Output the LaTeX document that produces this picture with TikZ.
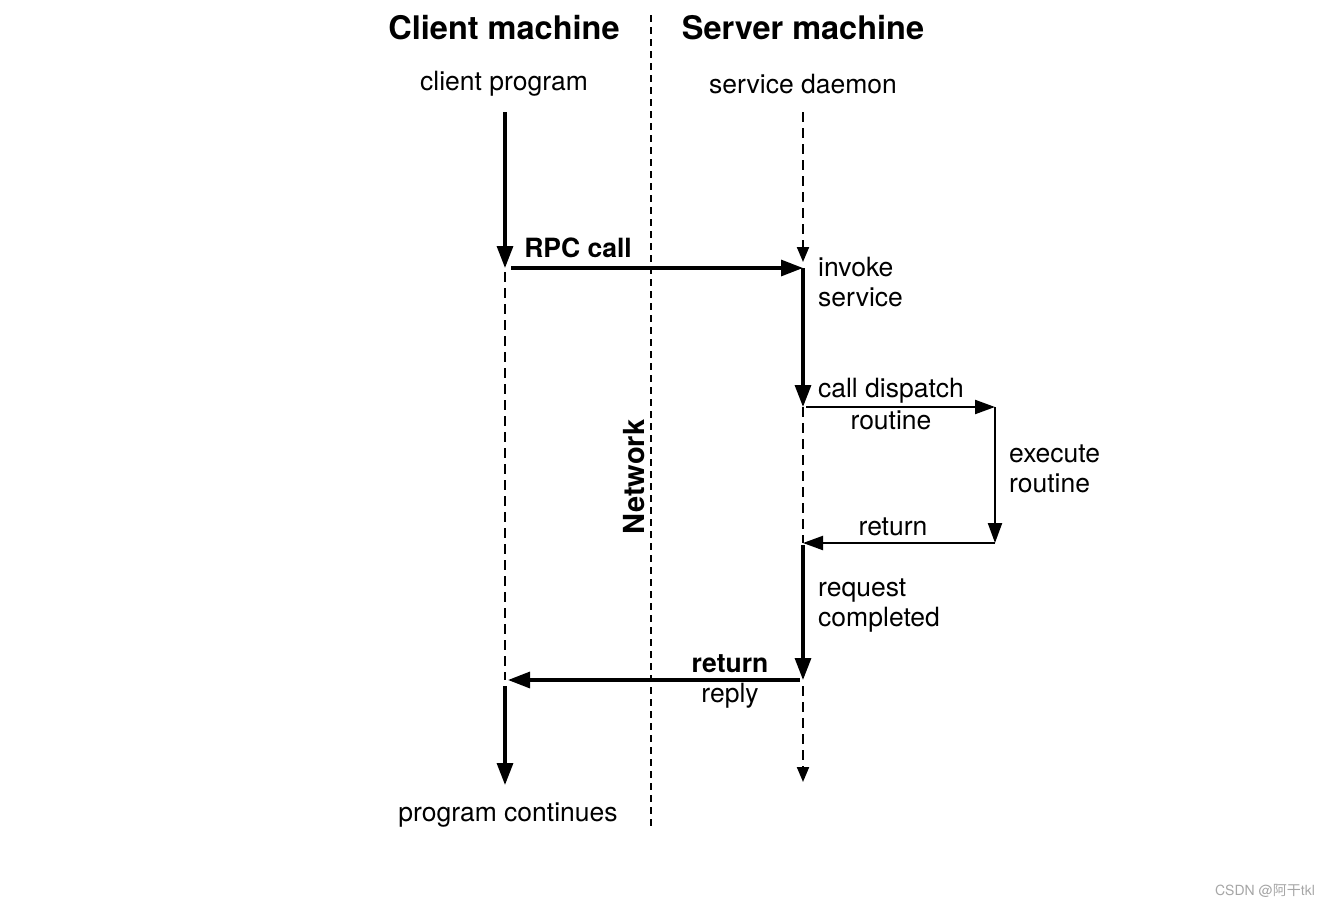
\documentclass[tikz,border=0pt]{standalone}
\usepackage{fontspec}
\setmainfont{TeX Gyre Heros}
\newfontfamily\cjkfont{Noto Sans CJK SC}
\usetikzlibrary{arrows.meta}
\begin{document}
\begin{tikzpicture}[x=1pt,y=-1pt,
  hdr/.style={font=\fontsize{32.5}{37}\selectfont\bfseries, inner sep=0pt},
  lbl/.style={font=\fontsize{26.5}{30}\selectfont, inner sep=0pt, align=left},
  blbl/.style={font=\fontsize{26.5}{30}\selectfont\bfseries, inner sep=0pt},
  flow/.style={line width=3.2pt, -{Triangle[length=22pt,width=16pt]}},
  thinflow/.style={line width=2.2pt, -{Triangle[length=20pt,width=14pt]}},
  dashflow/.style={line width=2pt, dash pattern=on 10pt off 6pt, -{Triangle[length=15pt,width=12pt]}},
  dashline/.style={line width=2pt, dash pattern=on 10pt off 6pt},
  netline/.style={line width=2pt, dash pattern=on 7pt off 5pt},
]
\useasboundingbox[fill=white] (0,0) rectangle (1331,908);

% headers
\node[hdr] (hc) at (504,28) {Client machine};
\node[hdr] (hs) at (803,28) {Server machine};
\node[lbl] (cp) at (504,84) {client program};
\node[lbl] (sd) at (803,84) {service daemon};

% network line
\coordinate (n1) at (651,15);
\coordinate (n2) at (651,830);
\draw[netline] (n1) -- (n2);
\node[font=\fontsize{29}{33}\selectfont\bfseries, inner sep=0pt, rotate=90] (net) at (634,477) {Network};

% client coordinates
\coordinate (c0) at (505,112);
\coordinate (c1) at (505,268);
\coordinate (c1b) at (505,272);
\coordinate (c2) at (505,680);
\coordinate (c2b) at (505,686);
\coordinate (c3) at (505,785);

% server coordinates
\coordinate (s0) at (803,112);
\coordinate (s1) at (803,262);
\coordinate (s1b) at (803,268);
\coordinate (s2) at (803,407);
\coordinate (s3) at (803,543);
\coordinate (s3b) at (803,545);
\coordinate (s4) at (803,680);
\coordinate (s4b) at (803,686);
\coordinate (s5) at (803,782);
\coordinate (r1) at (995,407);
\coordinate (r2) at (995,543);

% client timeline
\draw[flow] (c0) -- (c1);
\draw[dashline] (c1b) -- (c2);
\draw[flow] (c2b) -- (c3);

% server timeline
\draw[dashflow] (s0) -- (s1);
\draw[flow] (s1b) -- (s2);
\draw[dashline] (s2) -- (s3);
\draw[flow] (s3b) -- (s4);
\draw[dashflow] (s4b) -- (s5);

% messages
\draw[flow] (511,268) -- (s1b);
\node[blbl] (rpc) at (578,248) {RPC call};
\node[lbl, anchor=west] (inv) at (818,282) {invoke\\service};

\draw[thinflow] (806,407) -- (r1);
\node[lbl] (cd) at (891,391) {call dispatch};
\node[lbl] (cdr) at (891,420) {routine};

\draw[thinflow] (r1) -- (r2);
\node[lbl, anchor=west] (ex) at (1009,469) {execute\\routine};

\draw[thinflow] (r2) -- (s3);
\node[lbl] (ret) at (893,527) {return};

\node[lbl, anchor=west] (rq) at (818,606) {request\\completed};

\draw[flow] (800,680) -- (508,680);
\node[blbl] (ret2) at (730,664) {return};
\node[lbl] (rep) at (730,696) {reply};

\node[lbl] (pc) at (508,815) {program continues};

% watermark
\node[font=\fontsize{14}{16}\selectfont, text=gray!70, inner sep=0pt] (wm) at (1265,891) {CSDN @{\cjkfont 阿干}tkl};
\end{tikzpicture}
\end{document}
